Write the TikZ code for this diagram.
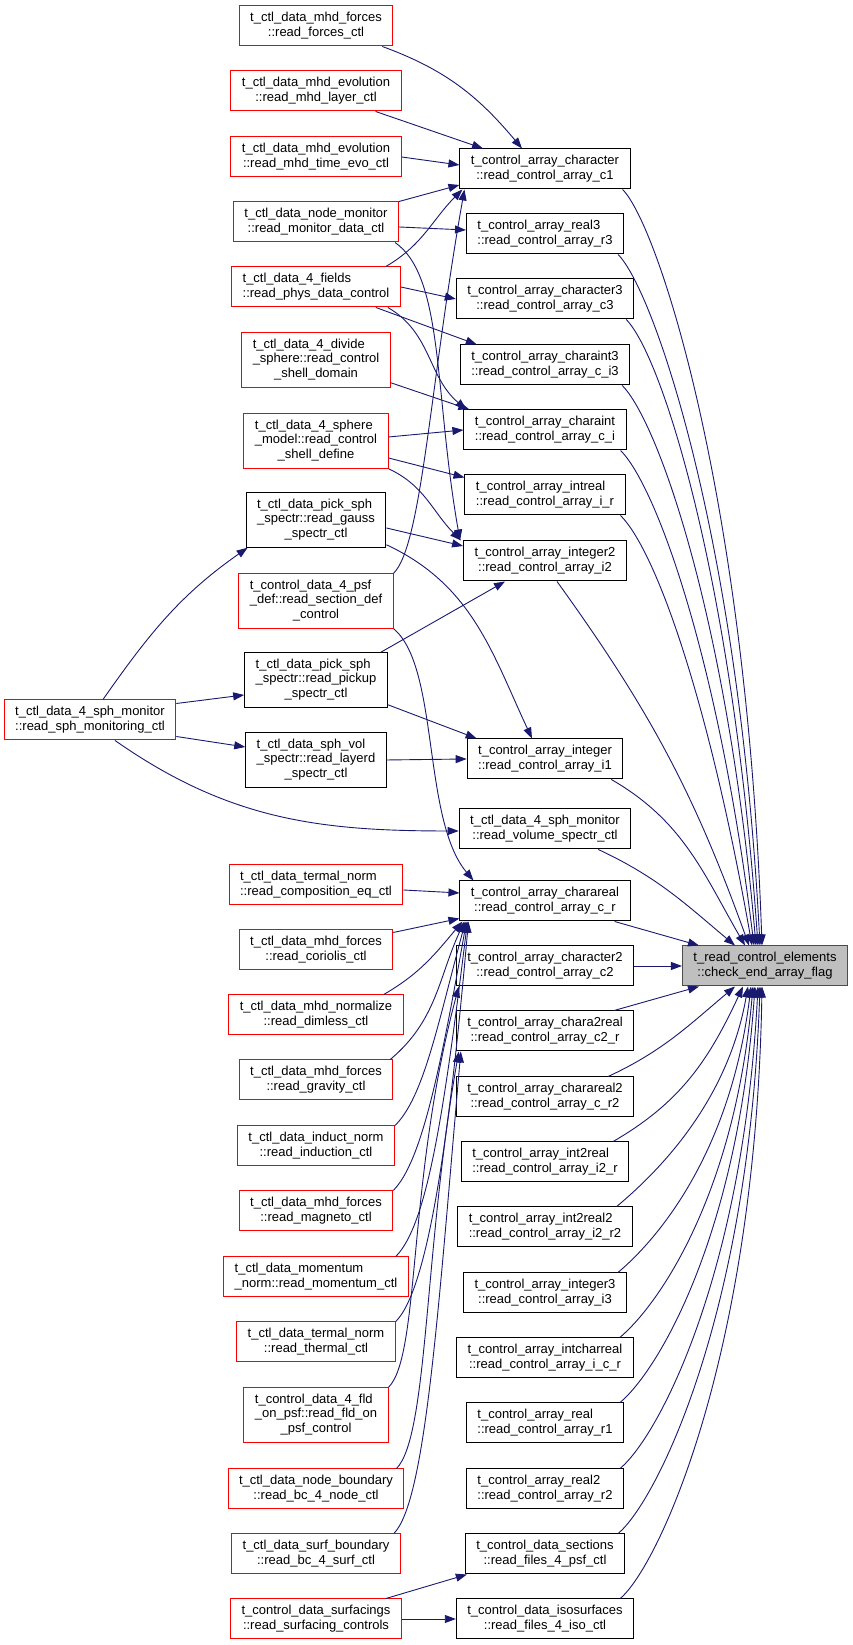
\documentclass[tikz,border=0pt]{standalone}
\usepackage{fontspec}
\setmainfont{Liberation Sans}
\usetikzlibrary{arrows.meta}
\definecolor{edgeblue}{RGB}{25,25,112}
\definecolor{rootgray}{RGB}{191,191,191}
\newcommand\fnl[2]{\begin{tabular}{@{}c@{}}\multicolumn{1}{@{}l@{}}{#1}\\#2\end{tabular}}
\tikzset{
  fnbox/.style={draw, line width=1pt, fill=white, inner xsep=11pt, inner ysep=5.5pt,
    font=\fontsize{13}{14.5}\selectfont},
  fnred/.style={fnbox, draw=red},
  fnblack/.style={fnbox, draw=black},
  fnroot/.style={fnbox, draw=black!70, fill=rootgray},
  call/.style={draw=edgeblue, line width=0.9pt, -{Triangle[length=11pt,width=8pt]}}
}

\begin{document}
\begin{tikzpicture}[x=1pt, y=1pt]
  \useasboundingbox[fill=white] (0,0) rectangle (852,1645);

  \node[fnroot] (root) at (765,679) {\fnl{t\_read\_control\_elements}{::check\_end\_array\_flag}};

  \node[fnblack] (c1) at (545,1476) {\fnl{t\_control\_array\_character}{::read\_control\_array\_c1}};
  \node[fnblack] (r3) at (545,1411) {\fnl{t\_control\_array\_real3}{::read\_control\_array\_r3}};
  \node[fnblack] (c3) at (545,1346) {\fnl{t\_control\_array\_character3}{::read\_control\_array\_c3}};
  \node[fnblack] (ci3) at (545,1280) {\fnl{t\_control\_array\_charaint3}{::read\_control\_array\_c\_i3}};
  \node[fnblack] (ci) at (545,1215) {\fnl{t\_control\_array\_charaint}{::read\_control\_array\_c\_i}};
  \node[fnblack] (ir) at (545,1150) {\fnl{t\_control\_array\_intreal}{::read\_control\_array\_i\_r}};
  \node[fnblack] (i2) at (545,1084) {\fnl{t\_control\_array\_integer2}{::read\_control\_array\_i2}};
  \node[fnblack] (i1) at (545,886) {\fnl{t\_control\_array\_integer}{::read\_control\_array\_i1}};
  \node[fnblack] (volspec) at (545,816) {\fnl{t\_ctl\_data\_4\_sph\_monitor}{::read\_volume\_spectr\_ctl}};
  \node[fnblack] (cr) at (545,744) {\fnl{t\_control\_array\_charareal}{::read\_control\_array\_c\_r}};
  \node[fnblack] (c2) at (545,679) {\fnl{t\_control\_array\_character2}{::read\_control\_array\_c2}};
  \node[fnblack] (c2r) at (545,614) {\fnl{t\_control\_array\_chara2real}{::read\_control\_array\_c2\_r}};
  \node[fnblack] (cr2) at (545,548) {\fnl{t\_control\_array\_charareal2}{::read\_control\_array\_c\_r2}};
  \node[fnblack] (i2r) at (545,483) {\fnl{t\_control\_array\_int2real}{::read\_control\_array\_i2\_r}};
  \node[fnblack] (i2r2) at (545,418) {\fnl{t\_control\_array\_int2real2}{::read\_control\_array\_i2\_r2}};
  \node[fnblack] (i3) at (545,352) {\fnl{t\_control\_array\_integer3}{::read\_control\_array\_i3}};
  \node[fnblack] (icr) at (545,287) {\fnl{t\_control\_array\_intcharreal}{::read\_control\_array\_i\_c\_r}};
  \node[fnblack] (r1) at (545,222) {\fnl{t\_control\_array\_real}{::read\_control\_array\_r1}};
  \node[fnblack] (r2) at (545,156) {\fnl{t\_control\_array\_real2}{::read\_control\_array\_r2}};
  \node[fnblack] (psfctl) at (545,91) {\fnl{t\_control\_data\_sections}{::read\_files\_4\_psf\_ctl}};
  \node[fnblack] (isoctl) at (545,26) {\fnl{t\_control\_data\_isosurfaces}{::read\_files\_4\_iso\_ctl}};

  \node[fnred] (forces) at (316,1619) {\fnl{t\_ctl\_data\_mhd\_forces}{::read\_forces\_ctl}};
  \node[fnred] (layer) at (316,1554) {\fnl{t\_ctl\_data\_mhd\_evolution}{::read\_mhd\_layer\_ctl}};
  \node[fnred] (timeevo) at (316,1488) {\fnl{t\_ctl\_data\_mhd\_evolution}{::read\_mhd\_time\_evo\_ctl}};
  \node[fnred] (monitor) at (316,1423) {\fnl{t\_ctl\_data\_node\_monitor}{::read\_monitor\_data\_ctl}};
  \node[fnred] (physdata) at (316,1358) {\fnl{t\_ctl\_data\_4\_fields}{::read\_phys\_data\_control}};
  \node[fnred] (divide) at (316,1285) {\fnl{t\_ctl\_data\_4\_divide}{\_sphere::read\_control\\\_shell\_domain}};
  \node[fnred] (spheremodel) at (316,1204) {\fnl{t\_ctl\_data\_4\_sphere}{\_model::read\_control\\\_shell\_define}};
  \node[fnblack] (gauss) at (316,1125) {\fnl{t\_ctl\_data\_pick\_sph}{\_spectr::read\_gauss\\\_spectr\_ctl}};
  \node[fnred] (sectiondef) at (316,1044) {\fnl{t\_control\_data\_4\_psf}{\_def::read\_section\_def\\\_control}};
  \node[fnblack] (pickup) at (316,965) {\fnl{t\_ctl\_data\_pick\_sph}{\_spectr::read\_pickup\\\_spectr\_ctl}};
  \node[fnblack] (layerd) at (316,885) {\fnl{t\_ctl\_data\_sph\_vol}{\_spectr::read\_layerd\\\_spectr\_ctl}};
  \node[fnred] (sphmon) at (90,925) {\fnl{t\_ctl\_data\_4\_sph\_monitor}{::read\_sph\_monitoring\_ctl}};
  \node[fnred] (composition) at (316,760) {\fnl{t\_ctl\_data\_termal\_norm}{::read\_composition\_eq\_ctl}};
  \node[fnred] (coriolis) at (316,695) {\fnl{t\_ctl\_data\_mhd\_forces}{::read\_coriolis\_ctl}};
  \node[fnred] (dimless) at (316,630) {\fnl{t\_ctl\_data\_mhd\_normalize}{::read\_dimless\_ctl}};
  \node[fnred] (gravity) at (316,565) {\fnl{t\_ctl\_data\_mhd\_forces}{::read\_gravity\_ctl}};
  \node[fnred] (induction) at (316,499) {\fnl{t\_ctl\_data\_induct\_norm}{::read\_induction\_ctl}};
  \node[fnred] (magneto) at (316,434) {\fnl{t\_ctl\_data\_mhd\_forces}{::read\_magneto\_ctl}};
  \node[fnred] (momentum) at (316,368) {\fnl{t\_ctl\_data\_momentum}{\_norm::read\_momentum\_ctl}};
  \node[fnred] (thermal) at (316,303) {\fnl{t\_ctl\_data\_termal\_norm}{::read\_thermal\_ctl}};
  \node[fnred] (fldpsf) at (316,230) {\fnl{t\_control\_data\_4\_fld}{\_on\_psf::read\_fld\_on\\\_psf\_control}};
  \node[fnred] (bcnode) at (316,156) {\fnl{t\_ctl\_data\_node\_boundary}{::read\_bc\_4\_node\_ctl}};
  \node[fnred] (bcsurf) at (316,91) {\fnl{t\_ctl\_data\_surf\_boundary}{::read\_bc\_4\_surf\_ctl}};
  \node[fnred] (surfacing) at (316,26) {\fnl{t\_control\_data\_surfacings}{::read\_surfacing\_controls}};

  \draw[call] ([xshift=-8pt]c1.south east) to[out=-45,in=92,out distance=50pt,in distance=450pt] ([xshift=-3pt]root.north);
  \draw[call] ([xshift=-6pt]r3.south east) to[out=-45,in=93,out distance=50pt,in distance=410pt] ([xshift=-5pt]root.north);
  \draw[call] ([xshift=-8pt]c3.south east) to[out=-45,in=94,out distance=50pt,in distance=370pt] ([xshift=-7pt]root.north);
  \draw[call] ([xshift=-8pt]ci3.south east) to[out=-45,in=95,out distance=50pt,in distance=330pt] ([xshift=-9pt]root.north);
  \draw[call] ([xshift=-6pt]ci.south east) to[out=-45,in=97,out distance=50pt,in distance=290pt] ([xshift=-11pt]root.north);
  \draw[call] ([xshift=-5pt]ir.south east) to[out=-45,in=100,out distance=50pt,in distance=250pt] ([xshift=-13pt]root.north);
  \draw[call] ([xshift=12pt]i2.south) to[bend left=8] ([xshift=-16pt]root.north);
  \draw[call] ([xshift=-12pt]i1.south east) to[out=-30,in=120] ([xshift=-20pt]root.north);
  \draw[call] ([xshift=-33pt]volspec.south east) to[out=-25,in=140] ([xshift=-30pt]root.north);
  \draw[call] ([xshift=-16pt]cr.south east) -- ([xshift=-66pt]root.north);
  \draw[call] (c2.east) -- (root.west);
  \draw[call] ([xshift=-20pt]c2r.north east) -- ([xshift=-66pt]root.south);
  \draw[call] ([xshift=-26pt]cr2.north east) to[out=25,in=-140] ([xshift=-30pt]root.south);
  \draw[call] ([xshift=-16pt]i2r.north east) to[out=30,in=-115] ([xshift=-22pt]root.south);
  \draw[call] ([xshift=-16pt]i2r2.north east) to[out=40,in=-100,out distance=50pt,in distance=120pt] ([xshift=-17pt]root.south);
  \draw[call] ([xshift=-9pt]i3.north east) to[out=40,in=-97,out distance=50pt,in distance=170pt] ([xshift=-14pt]root.south);
  \draw[call] ([xshift=-14pt]icr.north east) to[out=40,in=-95,out distance=50pt,in distance=210pt] ([xshift=-12pt]root.south);
  \draw[call] ([xshift=-4pt]r1.north east) to[out=40,in=-94,out distance=50pt,in distance=250pt] ([xshift=-10pt]root.south);
  \draw[call] ([xshift=-4pt]r2.north east) to[out=40,in=-93,out distance=50pt,in distance=290pt] ([xshift=-7pt]root.south);
  \draw[call] ([xshift=-7pt]psfctl.north east) to[out=40,in=-92,out distance=50pt,in distance=330pt] ([xshift=-5pt]root.south);
  \draw[call] ([xshift=-14pt]isoctl.north east) to[out=40,in=-91,out distance=50pt,in distance=370pt] ([xshift=-3pt]root.south);

  \draw[call] ([xshift=-11pt]forces.south east) to[out=-20,in=130] ([xshift=-23pt]c1.north);
  \draw[call] ([xshift=-26pt]layer.south east) -- ([xshift=-62pt]c1.north);
  \draw[call] (timeevo.east) -- ([yshift=4pt]c1.west);
  \draw[call] (monitor.north east) -- ([yshift=-16pt]c1.west);
  \draw[call] ([yshift=-5pt]monitor.east) -- ([yshift=4pt]r3.west);
  \draw[call] ([xshift=-4pt]monitor.south east) to[out=-35,in=100,out distance=60pt,in distance=150pt] ([xshift=-3pt]i2.north west);
  \draw[call] ([xshift=-15pt]physdata.north east) to[out=30,in=-135] ([xshift=3pt]c1.south west);
  \draw[call] (physdata.east) -- (c3.west);
  \draw[call] ([xshift=-25pt]physdata.south east) -- ([xshift=17pt]ci3.north west);
  \draw[call] ([xshift=-13pt]physdata.south east) to[out=-30,in=140] ([xshift=3pt]ci.north west);
  \draw[call] ([yshift=5pt]divide.south east) -- ([xshift=6pt]ci.north west);
  \draw[call] ([yshift=4pt]spheremodel.east) -- (ci.west);
  \draw[call] ([yshift=-17pt]spheremodel.east) -- ([yshift=-3pt]ir.north west);
  \draw[call] (spheremodel.south east) to[out=-25,in=135] ([xshift=-2pt]i2.north west);
  \draw[call] ([yshift=-8pt]gauss.east) -- ([yshift=15pt]i2.west);
  \draw[call] ([yshift=3pt]gauss.south east) to[out=-25,in=115] ([xshift=-13pt]i1.north);
  \draw[call] (sectiondef.north east) to[out=45,in=-100,out distance=40pt,in distance=200pt] ([xshift=5pt]c1.south west);
  \draw[call] (sectiondef.south east) to[out=-40,in=130,out distance=60pt,in distance=80pt] ([xshift=14pt]cr.north west);
  \draw[call] ([xshift=-7pt]pickup.north east) -- ([xshift=-40pt]i2.south);
  \draw[call] ([yshift=3pt]pickup.south east) -- ([xshift=10pt]i1.north west);
  \draw[call] (layerd.east) -- (i1.west);
  \draw[call] ([xshift=13pt]sphmon.north) to[out=55,in=-145] ([xshift=2pt]gauss.south west);
  \draw[call] ([yshift=-4pt]sphmon.north east) -- ([yshift=-15pt]pickup.west);
  \draw[call] ([yshift=4pt]sphmon.south east) -- ([yshift=13pt]layerd.west);
  \draw[call] ([xshift=25pt]sphmon.south) to[out=-35,in=180] ([yshift=-2pt]volspec.west);
  \draw[call] ([yshift=-5pt]composition.east) -- ([yshift=8pt]cr.west);
  \draw[call] ([yshift=-3pt]coriolis.north east) -- ([yshift=3pt]cr.south west);
  \draw[call] ([xshift=-20pt]dimless.north east) to[out=30,in=-130] ([xshift=3pt]cr.south west);
  \draw[call] ([xshift=-3pt]gravity.north east) to[out=40,in=-115] ([xshift=5pt]cr.south west);
  \draw[call] (induction.north east) to[out=45,in=-105,out distance=40pt,in distance=110pt] ([xshift=6pt]cr.south west);
  \draw[call] (magneto.north east) to[out=45,in=-100,out distance=40pt,in distance=150pt] ([xshift=7pt]cr.south west);
  \draw[call] ([xshift=-13pt]momentum.north east) to[out=45,in=-97,out distance=45pt,in distance=190pt] ([xshift=8pt]cr.south west);
  \draw[call] (thermal.north east) to[out=45,in=-95,out distance=45pt,in distance=220pt] ([xshift=9pt]cr.south west);
  \draw[call] (fldpsf.north east) to[out=45,in=-105,out distance=45pt,in distance=200pt] ([xshift=3pt]c2.south west);
  \draw[call] ([xshift=-8pt]bcnode.north east) to[out=45,in=-100,out distance=45pt,in distance=200pt] ([xshift=3pt]c2r.south west);
  \draw[call] ([xshift=-7pt]bcsurf.north east) to[out=45,in=-95,out distance=45pt,in distance=260pt] ([xshift=5pt]c2r.south west);
  \draw[call] ([xshift=-16pt]surfacing.north east) -- ([xshift=2pt]psfctl.south west);
  \draw[call] (surfacing.east) -- (isoctl.west);
\end{tikzpicture}
\end{document}
